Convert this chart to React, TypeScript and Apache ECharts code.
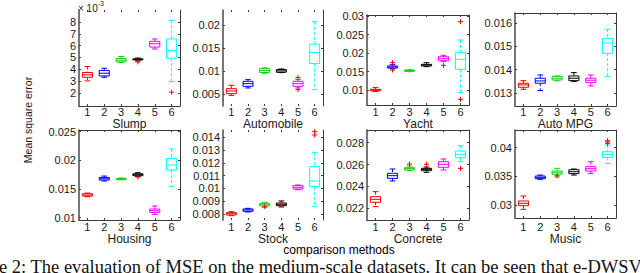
import React, { useEffect, useRef } from 'react';
import * as echarts from 'echarts';

// ---------- data ----------
const METHODS = ['1', '2', '3', '4', '5', '6'];
const METHOD_COLORS = ['#ff0000', '#0000ff', '#18d018', '#000000', '#ff00ff', '#00ffff'];
const OUTLIER_COLOR = '#ff0000';

const DATASETS = ['Slump', 'Automobile', 'Yacht', 'Auto MPG', 'Housing', 'Stock', 'Concrete', 'Music'];

// each box: [lower whisker, q1, median, q3, upper whisker]
const SLUMP_BOX = [
  [0.00302, 0.00333, 0.00353, 0.00373, 0.00424],
  [0.00333, 0.00344, 0.00367, 0.0039, 0.00409],
  [0.00458, 0.00463, 0.00477, 0.00491, 0.00508],
  [0.0047, 0.0048, 0.00485, 0.00488, 0.00495],
  [0.00571, 0.00588, 0.00616, 0.00636, 0.00656],
  [0.00296, 0.00494, 0.0056, 0.00656, 0.00814],
];
const SLUMP_OUT = [[3, 0.00462], [5, 0.00206]];
const SLUMP_TICKS = [0.002, 0.003, 0.004, 0.005, 0.006, 0.007, 0.008];

const AUTOMOBILE_BOX = [
  [0.0047, 0.00507, 0.00565, 0.00616, 0.00689],
  [0.00631, 0.00667, 0.00725, 0.00776, 0.00813],
  [0.00951, 0.00966, 0.0101, 0.01053, 0.01068],
  [0.00965, 0.00973, 0.01002, 0.01031, 0.01045],
  [0.00631, 0.00667, 0.00725, 0.00776, 0.00813],
  [0.00594, 0.01162, 0.01403, 0.01585, 0.0207],
];
const AUTOMOBILE_OUT = [[4, 0.00857], [4, 0.00594]];
const AUTOMOBILE_TICKS = [0.005, 0.01, 0.015, 0.02];

const YACHT_BOX = [
  [0.0096, 0.0098, 0.01, 0.0102, 0.0107],
  [0.01577, 0.01595, 0.01622, 0.01649, 0.01685],
  [0.01495, 0.01505, 0.01523, 0.0154, 0.0155],
  [0.01631, 0.01649, 0.01676, 0.01694, 0.01739],
  [0.01775, 0.01793, 0.01847, 0.019, 0.01937],
  [0.00928, 0.01559, 0.01829, 0.02009, 0.02351],
];
const YACHT_OUT = [[1, 0.01739], [1, 0.01541], [4, 0.01667], [5, 0.02847], [5, 0.00748]];
const YACHT_TICKS = [0.01, 0.015, 0.02, 0.025, 0.03];

const AUTOMPG_BOX = [
  [0.01316, 0.013245, 0.013346, 0.013418, 0.013532],
  [0.013102, 0.013418, 0.013518, 0.013633, 0.013776],
  [0.01352, 0.01356, 0.013633, 0.013704, 0.013733],
  [0.0135, 0.01353, 0.013633, 0.013733, 0.013877],
  [0.013303, 0.013446, 0.013547, 0.013633, 0.013776],
  [0.013704, 0.014709, 0.01515, 0.015354, 0.015742],
];
const AUTOMPG_OUT: number[][] = [];
const AUTOMPG_TICKS = [0.013, 0.014, 0.015, 0.016];

const HOUSING_BOX = [
  [0.01366, 0.01378, 0.01395, 0.01419, 0.0143],
  [0.0164, 0.01657, 0.0168, 0.01703, 0.01727],
  [0.01663, 0.01666, 0.01674, 0.01685, 0.01692],
  [0.0172, 0.01733, 0.0175, 0.01767, 0.01785],
  [0.01058, 0.01093, 0.01122, 0.01151, 0.01203],
  [0.01541, 0.01831, 0.01919, 0.02035, 0.02198],
];
const HOUSING_OUT = [[3, 0.0171]];
const HOUSING_TICKS = [0.01, 0.015, 0.02, 0.025];

const STOCK_BOX = [
  [0.007869, 0.007921, 0.008025, 0.008104, 0.008182],
  [0.008156, 0.008208, 0.008313, 0.008391, 0.008443],
  [0.008495, 0.008626, 0.00873, 0.008834, 0.008913],
  [0.00855, 0.00865, 0.00876, 0.00886, 0.00902],
  [0.009904, 0.009956, 0.010087, 0.010217, 0.01027],
  [0.008573, 0.010139, 0.010582, 0.011704, 0.012826],
];
const STOCK_OUT = [[2, 0.00858], [3, 0.00876], [5, 0.01444], [5, 0.01418]];
const STOCK_TICKS = [0.008, 0.009, 0.01, 0.011, 0.012, 0.013, 0.014];

const CONCRETE_BOX = [
  [0.022152, 0.022548, 0.022822, 0.023066, 0.023522],
  [0.024497, 0.024741, 0.024984, 0.025198, 0.025594],
  [0.025441, 0.025502, 0.025624, 0.025716, 0.025868],
  [0.02529, 0.025441, 0.025563, 0.025655, 0.025776],
  [0.025502, 0.025746, 0.02602, 0.026264, 0.026507],
  [0.026264, 0.026629, 0.026934, 0.027239, 0.027726],
];
const CONCRETE_OUT = [[2, 0.02605], [3, 0.02602], [5, 0.025655]];
const CONCRETE_TICKS = [0.022, 0.024, 0.026, 0.028];

const MUSIC_BOX = [
  [0.02924, 0.02988, 0.03029, 0.0307, 0.03157],
  [0.03448, 0.03459, 0.034826, 0.03506, 0.03523],
  [0.03488, 0.03535, 0.03564, 0.03593, 0.0364],
  [0.03523, 0.03547, 0.03581, 0.03616, 0.03628],
  [0.03552, 0.03593, 0.03634, 0.03669, 0.03756],
  [0.03727, 0.03831, 0.03884, 0.0393, 0.04047],
];
const MUSIC_OUT = [[2, 0.0351], [5, 0.04122], [5, 0.041], [5, 0.04076]];
const MUSIC_TICKS = [0.03, 0.035, 0.04];

const BOXES = [SLUMP_BOX, AUTOMOBILE_BOX, YACHT_BOX, AUTOMPG_BOX, HOUSING_BOX, STOCK_BOX, CONCRETE_BOX, MUSIC_BOX];
const OUTLIERS = [SLUMP_OUT, AUTOMOBILE_OUT, YACHT_OUT, AUTOMPG_OUT, HOUSING_OUT, STOCK_OUT, CONCRETE_OUT, MUSIC_OUT];
const TICKS = [SLUMP_TICKS, AUTOMOBILE_TICKS, YACHT_TICKS, AUTOMPG_TICKS, HOUSING_TICKS, STOCK_TICKS, CONCRETE_TICKS, MUSIC_TICKS];
const Y_RANGES = [
  [0.0009, 0.00901],
  [0.00239, 0.02326],
  [0.00595, 0.03027],
  [0.01244, 0.01644],
  [0.0096, 0.0253],
  [0.00753, 0.01457],
  [0.02093, 0.02916],
  [0.02773, 0.04309],
];

const Y_LABEL = 'Mean square error';
const X_LABEL = 'comparison methods';
const CAPTION = 'e 2: The evaluation of MSE on the medium-scale datasets. It can be seen that e-DWSV';

// ---------- layout ----------
const PANELS = [
  { l: 79, r: 180, t: 10, b: 106, top: false, bottom: true },
  { l: 223, r: 323, t: 10, b: 106, top: false, bottom: false },
  { l: 367, r: 469, t: 15, b: 105, top: true, bottom: true },
  { l: 515, r: 616, t: 13, b: 106, top: true, bottom: true },
  { l: 79, r: 180, t: 130, b: 220, top: true, bottom: true },
  { l: 223, r: 323, t: 130, b: 220, top: false, bottom: false },
  { l: 367, r: 469, t: 130, b: 220, top: true, bottom: true },
  { l: 515, r: 616, t: 130, b: 218, top: true, bottom: true },
];
const ROW_LABEL_Y = [112, 227];
const ROW_NAME_Y = [121, 237];

const SANS = '"Liberation Sans", Arial, Helvetica, sans-serif';
const FRAME = '#3a3a3a';
const TEXT = '#1a1a1a';

function renderBox(_params: any, api: any) {
  const idx = api.value(0);
  const color = METHOD_COLORS[idx];
  const pLow = api.coord([idx, api.value(1)]);
  const pQ1 = api.coord([idx, api.value(2)]);
  const pMed = api.coord([idx, api.value(3)]);
  const pQ3 = api.coord([idx, api.value(4)]);
  const pHigh = api.coord([idx, api.value(5)]);
  const band = api.size([1, 0])[0];
  const bw = band * 0.6;
  const cw = band * 0.34;
  const x = pMed[0];
  const st = { stroke: color, lineWidth: 1, fill: 'none' };
  const dash = { stroke: color, lineWidth: 1, lineDash: [3, 2] };
  return {
    type: 'group',
    children: [
      { type: 'line', shape: { x1: x, y1: pHigh[1], x2: x, y2: pQ3[1] }, style: dash },
      { type: 'line', shape: { x1: x, y1: pQ1[1], x2: x, y2: pLow[1] }, style: dash },
      { type: 'line', shape: { x1: x - cw / 2, y1: pHigh[1], x2: x + cw / 2, y2: pHigh[1] }, style: st },
      { type: 'line', shape: { x1: x - cw / 2, y1: pLow[1], x2: x + cw / 2, y2: pLow[1] }, style: st },
      { type: 'rect', shape: { x: x - bw / 2, y: pQ3[1], width: bw, height: Math.max(1, pQ1[1] - pQ3[1]) }, style: st },
      { type: 'line', shape: { x1: x - bw / 2, y1: pMed[1], x2: x + bw / 2, y2: pMed[1] }, style: st },
    ],
  };
}

function renderPlus(_params: any, api: any) {
  const p = api.coord([api.value(0), api.value(1)]);
  const s = 2.5;
  const st = { stroke: OUTLIER_COLOR, lineWidth: 1 };
  return {
    type: 'group',
    children: [
      { type: 'line', shape: { x1: p[0] - s, y1: p[1], x2: p[0] + s, y2: p[1] }, style: st },
      { type: 'line', shape: { x1: p[0], y1: p[1] - s, x2: p[0], y2: p[1] + s }, style: st },
    ],
  };
}

function fmt(i: number) {
  if (i === 0) return (v: number) => String(Math.round(v * 1000));
  return (v: number) => String(parseFloat(v.toFixed(4)));
}

export default function App() {
  const ref = useRef<HTMLDivElement>(null);
  useEffect(() => {
    if (!ref.current) return;
    const chart = echarts.init(ref.current, null, { renderer: 'svg' });
    const grid: any[] = [];
    const xAxis: any[] = [];
    const yAxis: any[] = [];
    const series: any[] = [];
    PANELS.forEach((p, i) => {
      const row = i < 4 ? 0 : 1;
      grid.push({ left: p.l, top: p.t, width: p.r - p.l, height: p.b - p.t, containLabel: false });
      const labelMargin = ROW_LABEL_Y[row] - 5.5 - p.b;
      const nameGap = ROW_NAME_Y[row] - 6.5 - p.b;
      xAxis.push({
        gridIndex: i, type: 'category', data: METHODS, position: 'bottom',
        axisLine: { show: p.bottom, lineStyle: { color: FRAME, width: 1 } },
        axisTick: { show: true, inside: true, length: 2, alignWithLabel: true, lineStyle: { color: FRAME } },
        axisLabel: { margin: labelMargin, fontSize: 11, color: TEXT, fontFamily: SANS },
        splitLine: { show: false },
        name: DATASETS[i], nameLocation: 'middle', nameGap,
        nameTextStyle: { fontSize: 12, color: TEXT, fontFamily: SANS },
      });
      xAxis.push({
        gridIndex: i, type: 'category', data: METHODS, position: 'top',
        axisLine: { show: p.top, lineStyle: { color: FRAME, width: 1 } },
        axisTick: { show: true, inside: true, length: 2, alignWithLabel: true, lineStyle: { color: FRAME } },
        axisLabel: { show: false },
        splitLine: { show: false },
      });
      yAxis.push({
        gridIndex: i, type: 'value', position: 'left', min: Y_RANGES[i][0], max: Y_RANGES[i][1],
        axisLine: { show: true, lineStyle: { color: '#555', width: 1.6 } },
        axisTick: { show: true, inside: true, length: 2, customValues: TICKS[i], lineStyle: { color: FRAME } },
        axisLabel: { customValues: TICKS[i], formatter: fmt(i), margin: 3, fontSize: 11, color: TEXT, fontFamily: SANS },
        splitLine: { show: false },
      });
      yAxis.push({
        gridIndex: i, type: 'value', position: 'right', min: Y_RANGES[i][0], max: Y_RANGES[i][1],
        axisLine: { show: true, lineStyle: { color: FRAME, width: 1 } },
        axisTick: { show: true, inside: true, length: 2, customValues: TICKS[i], lineStyle: { color: FRAME } },
        axisLabel: { show: false },
        splitLine: { show: false },
      });
      series.push({
        type: 'custom', xAxisIndex: 2 * i, yAxisIndex: 2 * i,
        renderItem: renderBox,
        encode: { x: 0, y: [1, 2, 3, 4, 5] },
        data: BOXES[i].map((b, k) => [k, ...b]),
        clip: false,
      });
      series.push({
        type: 'custom', xAxisIndex: 2 * i, yAxisIndex: 2 * i,
        renderItem: renderPlus,
        encode: { x: 0, y: 1 },
        data: OUTLIERS[i],
        clip: false,
      });
    });

    chart.setOption({
      animation: false,
      backgroundColor: '#ffffff',
      grid, xAxis, yAxis, series,
      graphic: [
        {
          type: 'text', x: 78, y: 0,
          style: {
            text: '{a|× 10}{b|-3}',
            rich: {
              a: { fontSize: 10, fontFamily: SANS, fill: TEXT, padding: [3, 0, 0, 0] },
              b: { fontSize: 7, fontFamily: SANS, fill: TEXT, verticalAlign: 'top' },
            },
          },
        },
        {
          type: 'text', x: 28, y: 120, rotation: Math.PI / 2,
          style: { text: Y_LABEL, fontSize: 10.5, fontFamily: SANS, fill: TEXT, align: 'center', verticalAlign: 'middle' },
        },
        {
          type: 'text', x: 339, y: 250,
          style: { text: X_LABEL, fontSize: 12, fontFamily: SANS, fill: '#000', align: 'center', verticalAlign: 'middle' },
        },
        {
          type: 'text', x: -1, y: 267,
          style: { text: CAPTION, fontSize: 18.5, fontFamily: '"Liberation Serif", "Times New Roman", serif', fill: '#111', align: 'left', verticalAlign: 'middle' },
        },
      ],
    });
    return () => chart.dispose();
  }, []);
  return <div ref={ref} style={{ position: 'fixed', left: 0, top: 0, width: 640, height: 273 }} />;
}
